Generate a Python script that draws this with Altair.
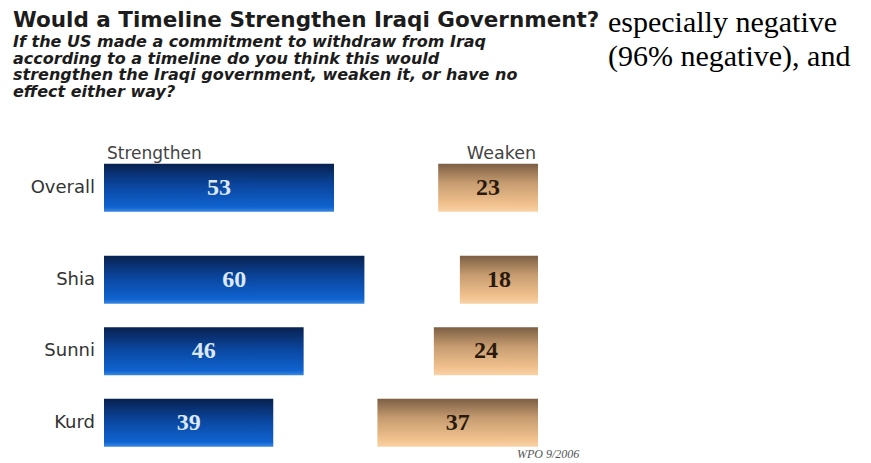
import altair as alt
import pandas as pd

# ---- data ----
groups = ["Overall", "Shia", "Sunni", "Kurd"]
strengthen = [53, 60, 46, 39]
weaken = [23, 18, 24, 37]
col_headers = ["Strengthen", "Weaken"]
title_text = "Would a Timeline Strengthen Iraqi Government?"
subtitle_lines = [
    "If the US made a commitment to withdraw from Iraq",
    "according to a timeline do you think this would",
    "strengthen the Iraqi government, weaken it, or have no",
    "effect either way?",
]
side_lines = ["especially negative", "(96% negative), and"]
source_note = "WPO 9/2006"

df = pd.DataFrame({"group": groups, "strengthen": strengthen, "weaken": weaken})

# ---- layout constants ----
W = 434
STEP = 71.5
PI = 0.33
PO = 0.165
SANS = "DejaVu Sans"
SERIF = "Liberation Serif"

blue = alt.Gradient(
    gradient="linear", x1=0, x2=0, y1=0, y2=1,
    stops=[
        alt.GradientStop(color="#08214f", offset=0),
        alt.GradientStop(color="#0a469e", offset=0.45),
        alt.GradientStop(color="#0f63cf", offset=0.9),
        alt.GradientStop(color="#3a86e0", offset=1),
    ],
)
tan = alt.Gradient(
    gradient="linear", x1=0, x2=0, y1=0, y2=1,
    stops=[
        alt.GradientStop(color="#7d5f44", offset=0),
        alt.GradientStop(color="#c69c70", offset=0.4),
        alt.GradientStop(color="#f2c28e", offset=0.85),
        alt.GradientStop(color="#f8d2a6", offset=1),
    ],
)

x_scale = alt.Scale(domain=[0, 100], nice=False)


def panel(sub_groups, extra_layers=()):
    base = (
        alt.Chart(df)
        .transform_filter(alt.FieldOneOfPredicate(field="group", oneOf=sub_groups))
        .transform_calculate(
            wstart="100 - datum.weaken",
            wend="100",
            smid="datum.strengthen / 2",
            wmid="100 - datum.weaken / 2",
        )
    )
    yenc = alt.Y(
        "group:N", sort=sub_groups, axis=None,
        scale=alt.Scale(paddingInner=PI, paddingOuter=PO),
    )
    sbar = base.mark_bar(color=blue).encode(
        x=alt.X("strengthen:Q", scale=x_scale, axis=None), y=yenc
    )
    wbar = base.mark_bar(color=tan).encode(
        x=alt.X("wstart:Q", scale=x_scale, axis=None), x2="wend:Q", y=yenc
    )
    stxt = base.mark_text(
        font=SERIF, fontSize=24, fontWeight="bold", color="#dce8f8", baseline="middle"
    ).encode(x=alt.X("smid:Q", scale=x_scale), y=yenc, text="strengthen:Q")
    wtxt = base.mark_text(
        font=SERIF, fontSize=24, fontWeight="bold", color="#2b1a0c", baseline="middle"
    ).encode(x=alt.X("wmid:Q", scale=x_scale), y=yenc, text="weaken:Q")
    lab = base.mark_text(
        font=SANS, fontSize=18, color="#333333", align="right", baseline="middle", dx=-9
    ).encode(x=alt.value(0), y=yenc, text="group:N")
    return alt.layer(sbar, wbar, stxt, wtxt, lab, *extra_layers).properties(
        width=W, height=STEP * len(sub_groups)
    )


def note(text, **kw):
    pos = {k: kw.pop(k) for k in ("px", "py")}
    return alt.Chart(pd.DataFrame({"t": [text]})).mark_text(**kw).encode(
        text="t:N", x=alt.value(pos["px"]), y=alt.value(pos["py"])
    )


top_notes = [
    note(title_text, px=-91, py=-125.5, font=SANS, fontSize=21.5, fontWeight="bold",
         color="#1c1c1c", align="left", baseline="alphabetic"),
    note("\n".join(subtitle_lines), px=-91, py=-105, font=SANS, fontSize=16,
         fontWeight="bold", fontStyle="italic", color="#1c1c1c", align="left",
         baseline="alphabetic", lineBreak="\n", lineHeight=16.5),
    note("\n".join(side_lines), px=504, py=-120, font=SERIF, fontSize=30,
         color="#000000", align="left", baseline="alphabetic", lineBreak="\n",
         lineHeight=34),
    note(col_headers[0], px=3, py=1.5, font=SANS, fontSize=17, color="#444444",
         align="left", baseline="middle"),
    note(col_headers[1], px=W - 2, py=1.5, font=SANS, fontSize=17.5, color="#444444",
         align="right", baseline="middle"),
]
bottom_notes = [
    note(source_note, px=413, py=210, font=SERIF, fontSize=12, fontStyle="italic",
         color="#555555", align="left", baseline="middle"),
]

top = panel(["Overall"], top_notes)
bottom = panel(["Shia", "Sunni", "Kurd"], bottom_notes)

chart = (
    alt.vconcat(top, bottom, spacing=20)
    .properties(padding={"left": 5, "top": 0, "right": 0, "bottom": 0})
    .configure_view(strokeWidth=0)
)

chart.save("out.html", embed_options={"renderer": "svg", "actions": False})
